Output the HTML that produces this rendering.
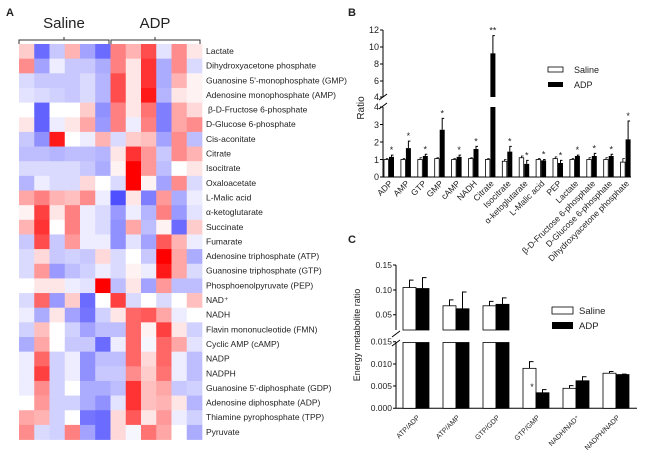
<!DOCTYPE html>
<html><head><meta charset="utf-8"><style>
html,body{margin:0;padding:0;background:#fff;width:650px;height:464px;overflow:hidden}
svg text{font-family:"Liberation Sans",Arial,sans-serif;fill:#222}
</style></head><body>
<svg id="s" width="650" height="464" viewBox="0 0 650 464" xmlns="http://www.w3.org/2000/svg">
<g id="hm"></g>
<text x="6" y="16" font-size="11" font-weight="bold">A</text>
<text x="64" y="28" font-size="15" text-anchor="middle">Saline</text>
<text x="155" y="28" font-size="15" text-anchor="middle">ADP</text>
<path d="M19,44 v-4 h90 v4 M64,40 v-3" fill="none" stroke="#333" stroke-width="1"/>
<path d="M111,44 v-4 h89 v4 M155,40 v-3" fill="none" stroke="#333" stroke-width="1"/>
<g font-size="8.5" id="rl">
<text x="206" y="54">Lactate</text>
<text x="206" y="68.6">Dihydroxyacetone phosphate</text>
<text x="206" y="83.3">Guanosine 5'-monophosphate (GMP)</text>
<text x="206" y="98">Adenosine monophosphate (AMP)</text>
<text x="208" y="112.6">β-D-Fructose 6-phosphate</text>
<text x="206" y="127.2">D-Glucose 6-phosphate</text>
<text x="206" y="141.9">Cis-aconitate</text>
<text x="206" y="156.5">Citrate</text>
<text x="206" y="171.2">Isocitrate</text>
<text x="206" y="185.8">Oxaloacetate</text>
<text x="206" y="200.5">L-Malic acid</text>
<text x="206" y="215.1">α-ketoglutarate</text>
<text x="206" y="229.8">Succinate</text>
<text x="206" y="244.4">Fumarate</text>
<text x="206" y="259.1">Adenosine triphosphate (ATP)</text>
<text x="206" y="273.7">Guanosine triphosphate (GTP)</text>
<text x="206" y="288.4">Phosphoenolpyruvate (PEP)</text>
<text x="206" y="303">NAD⁺</text>
<text x="206" y="317.7">NADH</text>
<text x="206" y="332.3">Flavin mononucleotide (FMN)</text>
<text x="206" y="347">Cyclic AMP  (cAMP)</text>
<text x="206" y="361.6">NADP</text>
<text x="206" y="376.3">NADPH</text>
<text x="206" y="390.9">Guanosine 5'-diphosphate (GDP)</text>
<text x="206" y="405.6">Adenosine diphosphate (ADP)</text>
<text x="206" y="420.2">Thiamine pyrophosphate (TPP)</text>
<text x="206" y="434.9">Pyruvate</text>
</g>

<!-- Panel B -->
<text x="348" y="16" font-size="11" font-weight="bold">B</text>
<g id="pb"></g>
<g font-size="9" text-anchor="end">
<text x="379" y="33">12</text><text x="379" y="50">10</text><text x="379" y="67">8</text><text x="379" y="84">6</text><text x="379" y="100">4</text>
<text x="379" y="110">4</text><text x="379" y="128">3</text><text x="379" y="145.5">2</text><text x="379" y="163">1</text><text x="379" y="180">0</text>
</g>
<text transform="translate(364,108) rotate(-90)" font-size="10" text-anchor="middle">Ratio</text>
<rect x="548" y="67" width="15" height="5" fill="#fff" stroke="#000" stroke-width="0.8"/>
<rect x="548" y="82" width="15" height="5" fill="#000"/>
<text x="574" y="73" font-size="9">Saline</text>
<text x="574" y="88" font-size="9">ADP</text>
<g font-size="8.5" text-anchor="end" id="bl"></g>

<!-- Panel C -->
<text x="348" y="243" font-size="11" font-weight="bold">C</text>
<g id="pc"></g>
<g font-size="8.5" text-anchor="end">
<text x="392" y="268">0.15</text><text x="392" y="293">0.10</text><text x="392" y="317.5">0.05</text>
<text x="392" y="344.5">0.015</text><text x="392" y="367">0.010</text><text x="392" y="389">0.005</text><text x="392" y="411">0.000</text>
</g>
<text transform="translate(360,335) rotate(-90)" font-size="9" text-anchor="middle">Energy metabolite ratio</text>
<rect x="552" y="307" width="21" height="7" fill="#fff" stroke="#000" stroke-width="0.8"/>
<rect x="552" y="322" width="21" height="7" fill="#000"/>
<text x="579" y="314" font-size="9.5">Saline</text>
<text x="579" y="329" font-size="9.5">ADP</text>
<g font-size="7" text-anchor="end">
<text transform="translate(420,418) rotate(-45)">ATP/ADP</text>
<text transform="translate(460,418) rotate(-45)">ATP/AMP</text>
<text transform="translate(500,418) rotate(-45)">GTP/GDP</text>
<text transform="translate(540,418) rotate(-45)">GTP/GMP</text>
<text transform="translate(580,418) rotate(-45)">NADH/NAD⁺</text>
<text transform="translate(620,418) rotate(-45)">NADPH/NADP</text>
</g>
</svg>
<script>
var NS="http://www.w3.org/2000/svg";
function el(p,t,a){var e=document.createElementNS(NS,t);for(var k in a)e.setAttribute(k,a[k]);p.appendChild(e);return e;}
var D=[
[.2,-.8,-.3,.3,-.5,-.8,.5,.3,.7,-.15,.45,.1],
[.45,-.5,-.1,-.3,-.3,-.45,.5,.1,.8,-.45,.45,-.2],
[-.2,-.3,-.3,-.3,-.2,-.4,.7,.1,.8,-.45,.3,.05],
[-.15,-.2,-.25,-.3,-.2,-.4,.7,.1,.9,-.4,.1,.05],
[0,-.85,0,0,.2,-.6,.5,.1,.55,-.7,.35,.15],
[.1,-.85,-.1,.1,.35,-.55,.5,-.1,.5,-.7,.35,.45],
[-.3,-.6,.9,0,-.1,.3,-.2,.2,.25,-.5,.45,-.35],
[-.35,-.35,-.4,-.35,-.35,-.4,.1,.8,.4,-.3,.45,.3],
[-.2,-.2,-.2,-.2,-.3,-.45,.05,1,.4,-.35,0,.1],
[-.4,-.1,-.2,-.2,.15,0,-.2,1,.05,-.5,.45,-.2],
[.35,.5,.3,.25,.45,-.1,-.95,.1,-.7,.4,-.45,-.1],
[.05,.75,.1,.5,-.1,-.2,-.55,-.1,-.4,.5,-.55,-.15],
[.3,.8,0,.5,-.1,-.2,-.6,.35,-.35,.05,-.8,.2],
[-.3,.7,-.3,.4,-.1,-.1,-.6,-.15,-.5,.65,.3,-.1],
[-.2,.15,-.3,-.25,-.3,.15,-.2,0,-.3,1,.35,-.45],
[-.2,.4,-.55,-.35,-.25,-.1,-.2,.05,-.1,.9,.35,-.2],
[0,.1,.1,-.1,-.15,1,-.35,.1,-.5,.4,-.35,-.35],
[-.2,.6,-.55,.2,-.8,0,.75,-.2,0,-.2,0,.25],
[-.1,-.45,.1,-.5,-.75,-.25,.1,.6,.65,.35,-.1,0],
[-.25,.25,0,-.25,-.5,-.35,-.35,.6,.05,.75,.1,-.25],
[-.45,.35,0,-.3,-.3,-.8,-.1,.6,-.05,.6,.35,-.15],
[-.1,.6,-.25,-.1,-.6,-.35,-.35,.6,.15,.6,-.1,-.35],
[-.1,.75,-.25,-.1,-.6,-.3,-.3,.45,.2,.55,-.1,-.35],
[-.1,.45,-.25,0,-.45,-.45,-.35,.8,.25,.35,-.3,-.25],
[0,.4,-.25,-.25,-.45,-.6,-.15,.8,.25,.3,.1,-.4],
[.35,.3,-.25,0,-.75,-.8,.15,.65,.1,.4,-.1,-.25],
[.45,-.2,-.25,.5,-.5,-.8,.15,-.05,.55,.35,0,-.45]];
function col(v){if(v>=0){var g=Math.round(255*(1-v));return "rgb(255,"+g+","+g+")";}
var a=-v;var c=Math.round(255-(255-70)*a);return "rgb("+c+","+c+",255)";}
var hm=document.getElementById("hm");
for(var r=0;r<27;r++)for(var c=0;c<12;c++){
el(hm,"rect",{x:(19+c*15.25).toFixed(2),y:(44+r*14.65).toFixed(2),width:15.6,height:15,fill:col(D[r][c])});}
// Panel B
var pb=document.getElementById("pb");
function yb(v){return v<=4?177-v*17.5:97-(v-4)*8.4;}
el(pb,"path",{d:"M383,30 V97 M383,107 V177 H631 M380,30 h3 M380,47 h3 M380,64 h3 M380,81 h3 M380,97 h3 M380,107 h3 M380,124.5 h3 M380,142 h3 M380,159.5 h3 M380,177 h3",stroke:"#000","stroke-width":1,fill:"none"});
el(pb,"path",{d:"M379,100 l8,-6 M379,109 l8,-6",stroke:"#000","stroke-width":1,fill:"none"});
var names=["ADP","AMP","GTP","GMP","cAMP","NADH","Citrate","Isocitrate","α-ketoglutarate","L-Malic acid","PEP","Lactate","β-D-Fructose 6-phosphate","D-Glucose 6-phosphate","Dihydroxyacetone phosphate"];
var sal=[1,1,1,1.05,1,1.05,1,.9,1.1,1,1.05,1,1,1,.85];
var salE=[.05,.05,.1,.05,.05,.05,.05,.1,.1,.05,.1,.05,.1,.1,.2];
var adp=[1.15,1.65,1.2,2.7,1.15,1.6,9.2,1.45,.75,.95,.8,1.2,1.2,1.2,2.15];
var adpE=[.1,.4,.1,.65,.1,.15,2.1,.3,.2,.05,.15,.05,.15,.1,1.05];
var bl=document.getElementById("bl");
for(var i=0;i<15;i++){
var cx=389+i*16.9;
var ys=yb(sal[i]);
el(pb,"rect",{x:cx-5,y:ys,width:4.5,height:177-ys,fill:"#fff",stroke:"#000","stroke-width":.8});
el(pb,"path",{d:"M"+(cx-2.75)+","+ys+" V"+yb(sal[i]+salE[i])+" h2",stroke:"#000","stroke-width":.8,fill:"none"});
var ya=yb(adp[i]);
if(adp[i]>4){el(pb,"rect",{x:cx,y:107,width:5,height:70,fill:"#000"});el(pb,"rect",{x:cx,y:ya,width:5,height:97-ya,fill:"#000"});}
else el(pb,"rect",{x:cx,y:ya,width:5,height:177-ya,fill:"#000"});
var ye=yb(adp[i]+adpE[i]);
el(pb,"path",{d:"M"+(cx+2.5)+","+ya+" V"+ye+" h2",stroke:"#000","stroke-width":1,fill:"none"});
var t=el(pb,"text",{x:cx+2.5,y:ye-2,"font-size":9,"text-anchor":"middle"});t.textContent=i==6?"**":"*";
var tl=el(bl,"text",{transform:"translate("+(cx+4)+",184) rotate(-45)"});tl.textContent=names[i];
}
// Panel C
var pc=document.getElementById("pc");
function yc(v){return v<=0.016?408.3-v/0.005*22.2:339.4-v/0.05*24.7;}
el(pc,"path",{d:"M396,265 V330 M396,342 V408.3 H637 M393,265 h3 M393,290 h3 M393,314.7 h3 M393,341.7 h3 M393,364 h3 M393,386 h3 M393,408.3 h3",stroke:"#000","stroke-width":1,fill:"none"});
el(pc,"path",{d:"M392,337 l8,-6 M392,346 l8,-6",stroke:"#000","stroke-width":1,fill:"none"});
var cs=[.105,.068,.068,.009,.0045,.0079],cse=[.12,.08,.077,.0105,.0051,.0083];
var ca=[.103,.062,.071,.0035,.0062,.0076],cae=[.125,.096,.084,.0042,.0071,.0077];
for(var i=0;i<6;i++){
var x0=403+i*40;
[[cs,cse,"#fff",x0],[ca,cae,"#000",x0+13]].forEach(function(s){
var v=s[0][i],e=s[1][i],x=s[3];
if(v>0.02){
el(pc,"rect",{x:x,y:342.5,width:13,height:65.8,fill:s[2],stroke:"#000","stroke-width":.8});
var y=yc(v);el(pc,"rect",{x:x,y:y,width:13,height:330-y,fill:s[2],stroke:"#000","stroke-width":.8});
el(pc,"path",{d:"M"+(x+6.5)+","+y+" V"+yc(e)+" h4",stroke:"#000","stroke-width":1,fill:"none"});
}else{var y=yc(v);el(pc,"rect",{x:x,y:y,width:13,height:408.3-y,fill:s[2],stroke:"#000","stroke-width":.8});
el(pc,"path",{d:"M"+(x+6.5)+","+y+" V"+yc(e)+" h4",stroke:"#000","stroke-width":1,fill:"none"});}
});}
var st=el(pc,"text",{x:532,y:390,"font-size":9,"text-anchor":"middle"});st.textContent="*";
</script>
</body></html>
